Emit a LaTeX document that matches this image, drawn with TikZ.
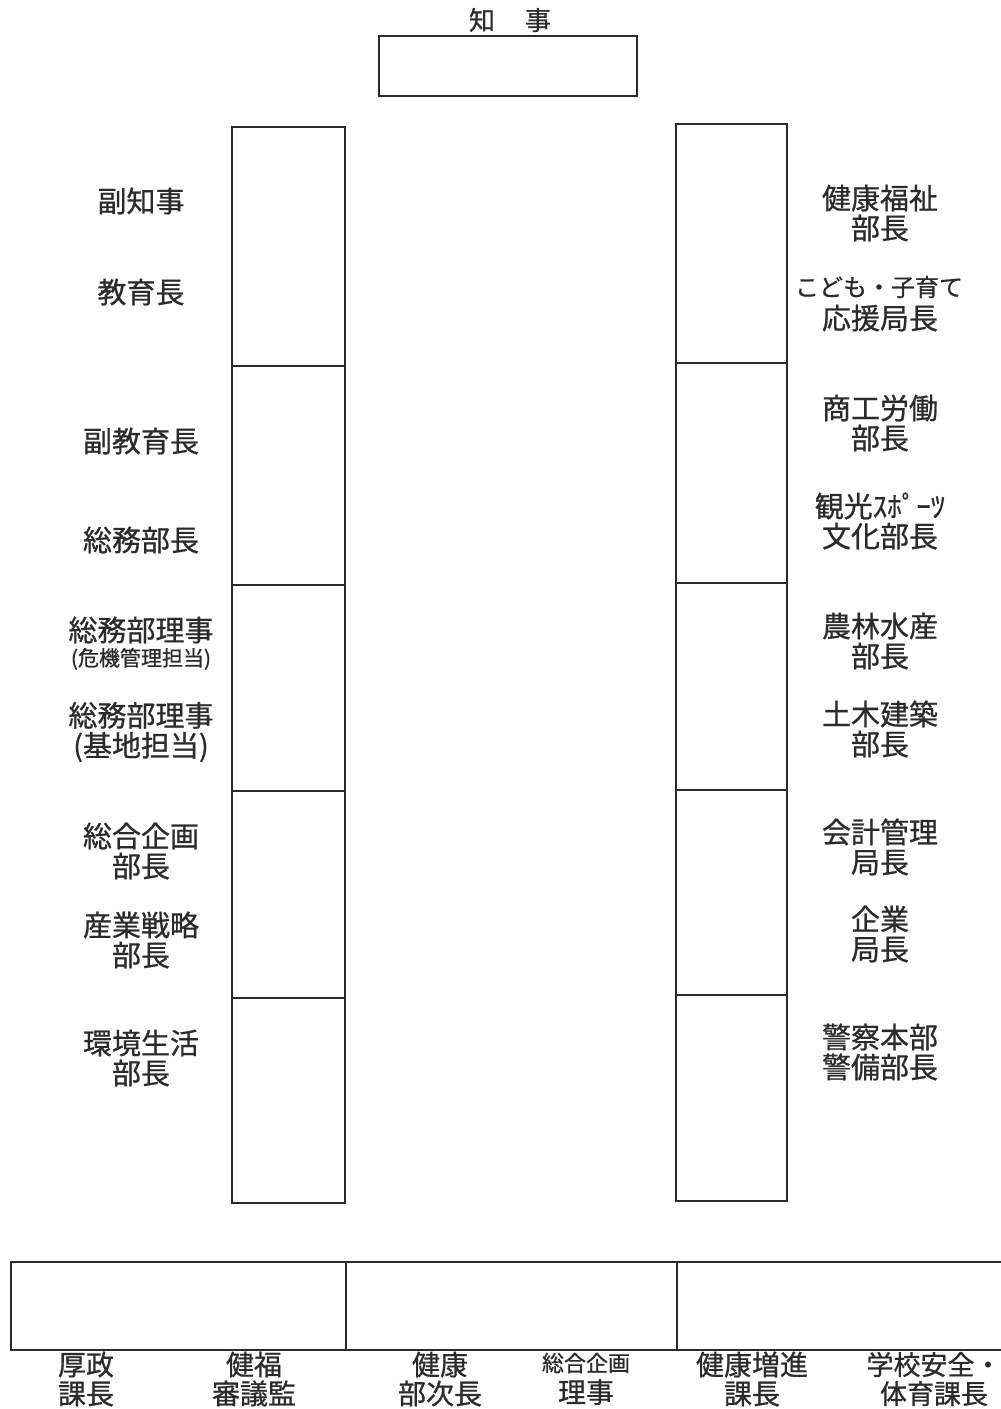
\documentclass[tikz,border=0pt]{standalone}
\usepackage{fontspec}
\setmainfont{Noto Sans CJK JP}[FakeBold=0.7]
\definecolor{ink}{HTML}{2B2B2B}
\begin{document}
\begin{tikzpicture}[x=1pt,y=-1pt,
  cell/.style={draw=ink, line width=2pt, inner sep=0pt, outer sep=0pt, anchor=north west},
  lbl/.style={text=ink, align=center, inner sep=0pt, font=\fontsize{29}{30}\selectfont},
]
\useasboundingbox (0,0) rectangle (1001,1409);
\fill[white] (0,0) rectangle (1001,1409);

% top box
\node[lbl, font=\fontsize{26}{28}\selectfont] (chiji) at (510,20) {知\hspace{30pt}事};
\node[cell, minimum width=258pt, minimum height=60pt] (top) at (379,36) {};

% left column
\node[cell, minimum width=113pt, minimum height=239pt] (L1) at (232,127) {};
\node[cell, minimum width=113pt, minimum height=219pt] (L2) at (232,366) {};
\node[cell, minimum width=113pt, minimum height=206pt] (L3) at (232,585) {};
\node[cell, minimum width=113pt, minimum height=207pt] (L4) at (232,791) {};
\node[cell, minimum width=113pt, minimum height=205pt] (L5) at (232,998) {};

% right column
\node[cell, minimum width=111pt, minimum height=239pt] (R1) at (676,124) {};
\node[cell, minimum width=111pt, minimum height=220pt] (R2) at (676,363) {};
\node[cell, minimum width=111pt, minimum height=207pt] (R3) at (676,583) {};
\node[cell, minimum width=111pt, minimum height=205pt] (R4) at (676,790) {};
\node[cell, minimum width=111pt, minimum height=206pt] (R5) at (676,995) {};

% bottom row
\node[cell, minimum width=335pt, minimum height=88pt] (B1) at (11,1262) {};
\node[cell, minimum width=331pt, minimum height=88pt] (B2) at (346,1262) {};
\node[inner sep=0pt, outer sep=0pt, anchor=north west, minimum width=326pt, minimum height=88pt] (B3) at (677,1262) {};
\draw[ink, line width=2pt] (B3.north east) -- (B3.north west) -- (B3.south west) -- (B3.south east);

% left labels
\node[lbl] (l1) at (141,201) {副知事};
\node[lbl] (l2) at (141,292) {教育長};
\node[lbl] (l3) at (141,441) {副教育長};
\node[lbl] (l4) at (141,540) {総務部長};
\node[lbl] (l5) at (141,630) {総務部理事};
\node[lbl, font=\fontsize{21}{22}\selectfont] (l5b) at (141,659) {(危機管理担当)};
\node[lbl] (l6) at (141,732) {総務部理事\\(基地担当)};
\node[lbl] (l7) at (141,851) {総合企画\\部長};
\node[lbl] (l8) at (141,940) {産業戦略\\部長};
\node[lbl] (l9) at (141,1058) {環境生活\\部長};

% right labels
\node[lbl] (r1) at (880,213) {健康福祉\\部長};
\node[lbl, font=\fontsize{24}{26}\selectfont] (r2a) at (879,287) {こども・子育て};
\node[lbl] (r2b) at (880,318) {応援局長};
\node[lbl] (r3) at (880,423) {商工労働\\部長};
\node[lbl] (r4) at (880,521) {観光ｽﾎﾟｰﾂ\\文化部長};
\node[lbl] (r5) at (880,641) {農林水産\\部長};
\node[lbl] (r6) at (880,729) {土木建築\\部長};
\node[lbl] (r7) at (880,847) {会計管理\\局長};
\node[lbl] (r8) at (880,934) {企業\\局長};
\node[lbl] (r9) at (880,1052) {警察本部\\警備部長};

% bottom labels
\node[lbl, font=\fontsize{28}{29}\selectfont] (b1) at (86,1379) {厚政\\課長};
\node[lbl, font=\fontsize{28}{29}\selectfont] (b2) at (254,1379) {健福\\審議監};
\node[lbl, font=\fontsize{28}{29}\selectfont] (b3) at (440,1379) {健康\\部次長};
\node[lbl, font=\fontsize{22}{24}\selectfont] (b4a) at (586,1363) {総合企画};
\node[lbl, font=\fontsize{28}{29}\selectfont] (b4b) at (586,1392) {理事};
\node[lbl, font=\fontsize{28}{29}\selectfont] (b5) at (752,1379) {健康増進\\課長};
\node[lbl, font=\fontsize{27}{29}\selectfont] (b6) at (934,1379) {学校安全・\\体育課長};
\end{tikzpicture}
\end{document}
